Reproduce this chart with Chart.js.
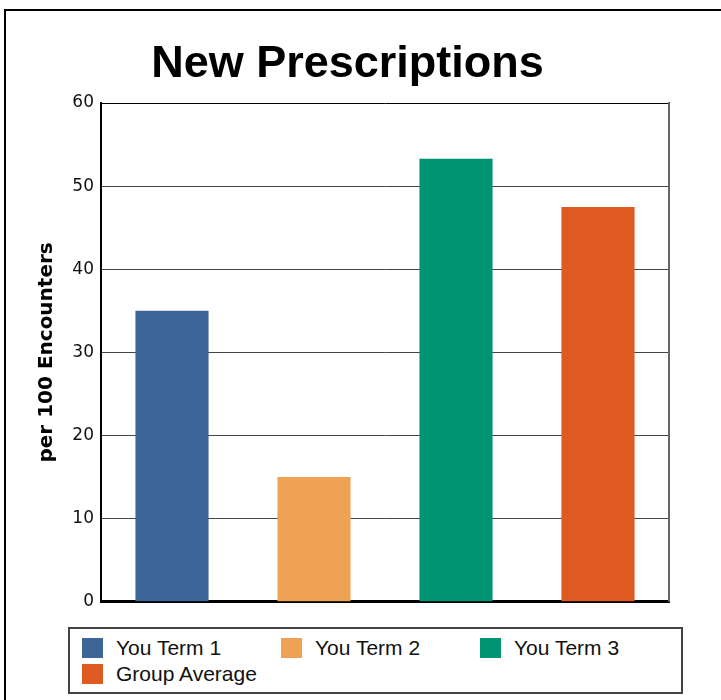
<!DOCTYPE html>
<html>
<head>
<meta charset="utf-8">
<script src="https://cdn.jsdelivr.net/npm/chart.js@4.4.1/dist/chart.umd.min.js"></script>
<style>
  html, body { margin: 0; padding: 0; background: #fff; overflow: hidden; }
  .marco { position: absolute; left: 4px; top: 9px; width: 740px; height: 720px; border: 2px solid #000; }
  #grafica { position: absolute; left: 0; top: 0; }
  .leyenda { position: absolute; left: 68px; top: 627px; width: 611px; height: 63px; border: 2px solid #444;
    font-family: "Liberation Sans", Arial, sans-serif; font-size: 21px; color: #111; }
  .item { position: absolute; height: 22px; line-height: 22px; white-space: nowrap; }
  .cuadro { position: absolute; left: 0; top: 1px; width: 21px; height: 20px; }
  .texto { position: absolute; left: 34px; top: 0; }
</style>
</head>
<body>
<div class="marco"></div>
<canvas id="grafica" width="694" height="619"></canvas>
<div class="leyenda" id="leyenda"></div>
<script>
const categorias = ['You Term 1', 'You Term 2', 'You Term 3', 'Group Average'];
const valores = [35, 15, 53.3, 47.5];
const colores = ['#3c6697', '#efa253', '#009473', '#df5a20'];
const ticksY = [0, 10, 20, 30, 40, 50, 60];

// borde derecho del area de la grafica
const bordeDerecho = {
  id: 'bordeDerecho',
  afterDatasetsDraw(chart) {
    const {ctx, chartArea} = chart;
    ctx.save();
    ctx.strokeStyle = '#666';
    ctx.lineWidth = 2;
    ctx.beginPath();
    ctx.moveTo(chartArea.right, chartArea.top - 1);
    ctx.lineTo(chartArea.right, chartArea.bottom);
    ctx.stroke();
    ctx.restore();
  }
};

const config = {
  type: 'bar',
  data: {
    labels: categorias,
    datasets: [{
      label: 'New Prescriptions',
      data: valores,
      backgroundColor: colores,
      borderWidth: 0,
      barPercentage: 0.515,
      categoryPercentage: 1
    }]
  },
  options: {
    responsive: false,
    animation: false,
    layout: { padding: { left: 26, right: 25, bottom: 8, top: 0 } },
    scales: {
      x: {
        grid: { display: false },
        ticks: { display: false },
        border: { color: '#000', width: 3 }
      },
      y: {
        min: 0,
        max: 60,
        afterBuildTicks: (scale) => { scale.ticks = ticksY.map(v => ({value: v})); },
        afterFit: (scale) => { scale.width = 75; },
        grid: {
          drawTicks: false,
          color: (c) => c.tick && c.tick.value === 60 ? '#000' : '#444',
          lineWidth: 1
        },
        border: { color: '#000', width: 2 },
        ticks: {
          padding: 7,
          color: '#111',
          font: { family: 'DejaVu Sans', size: 17 }
        },
        title: {
          display: true,
          text: 'per 100 Encounters',
          color: '#000',
          padding: { top: 9, bottom: 0 },
          font: { family: 'DejaVu Sans', size: 20, weight: 'bold' }
        }
      }
    },
    plugins: {
      legend: { display: false },
      tooltip: { enabled: false },
      title: {
        display: true,
        text: 'New Prescriptions',
        color: '#000',
        padding: { top: 38, bottom: 11 },
        font: { family: 'Liberation Sans', size: 45, weight: 'bold' }
      }
    }
  },
  plugins: [bordeDerecho]
};

new Chart(document.getElementById('grafica').getContext('2d'), config);

// leyenda en html
const leyenda = document.getElementById('leyenda');
categorias.forEach((cat, i) => {
  const item = document.createElement('div');
  item.className = 'item';
  item.style.left = (12 + (i % 3) * 199) + 'px';
  item.style.top = (8 + Math.floor(i / 3) * 25.5) + 'px';
  item.innerHTML = '<div class="cuadro" style="background:' + colores[i] + '"></div><div class="texto">' + cat + '</div>';
  leyenda.appendChild(item);
});
</script>
</body>
</html>
